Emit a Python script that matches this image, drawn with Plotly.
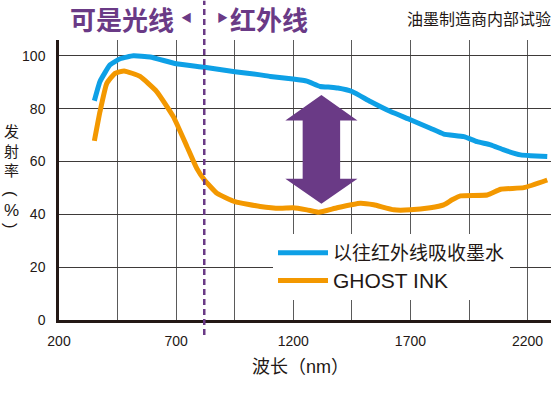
import plotly.graph_objects as go

# ---- data ----
wl_conventional = [351, 375, 418, 461, 517, 589, 700, 821, 951, 1059, 1102, 1199, 1258, 1315, 1360, 1390,
                   1451, 1529, 1615, 1700, 1785, 1842, 1928, 1985, 2042, 2099, 2170, 2212, 2284]
conventional = [83, 90.3, 96.6, 98.9, 100, 99.6, 97, 95.7, 94, 92.8, 92.2, 91.2, 90.4, 88.4, 88.1, 87.8,
                86.5, 82.7, 78.9, 75.8, 72.6, 70.4, 69.4, 67.5, 66.3, 64.4, 62.5, 62.2, 61.9]

wl_ghost = [351, 375, 404, 439, 478, 546, 617, 688, 746, 788, 821, 874, 951, 1059, 1144, 1199, 1258, 1308,
            1387, 1486, 1543, 1629, 1700, 1785, 1842, 1878, 1914, 2028, 2085, 2184, 2284]
ghost = [67.8, 78.9, 89.6, 93.4, 94.3, 92.2, 86.5, 77, 65.7, 57.4, 53, 48, 44.8, 43, 42.3, 42.5, 41.7, 40.8,
         42.5, 44.2, 43.6, 41.7, 41.7, 42.5, 43.6, 45.5, 47, 47.3, 49.5, 50.1, 53]

x_tick_vals = [200, 700, 1200, 1700, 2200]
x_tick_text = ["200", "700", "1200", "1700", "2200"]
y_tick_vals = [0, 20, 40, 60, 80, 100]
series_names = ["以往红外线吸收墨水", "GHOST INK"]
boundary_nm = 820

# arrow decoration parameters (data units)
arrow_cx, arrow_shaft_hw, arrow_head_hw = 1320, 80, 154
arrow_top, arrow_top_base, arrow_bot_base, arrow_bot = 85.2, 75.5, 53.5, 44.0

BLUE = "#0ea0e6"
ORANGE = "#f39800"
PURPLE = "#6a3a86"
DARK = "#231815"
CJK = "Noto Sans CJK SC"
LAT = "Liberation Sans, Noto Sans CJK SC, sans-serif"

fig = go.Figure()
fig.add_trace(go.Scatter(x=wl_conventional, y=conventional, mode="lines", name=series_names[0],
                         line=dict(color=BLUE, width=5, shape="spline", smoothing=0.4)))
fig.add_trace(go.Scatter(x=wl_ghost, y=ghost, mode="lines",
                         name=f"<span style='font-size:21px'>{series_names[1]}</span>",
                         line=dict(color=ORANGE, width=5, shape="spline", smoothing=0.4)))

arrow_path = (
    f"M {arrow_cx},{arrow_top} L {arrow_cx + arrow_head_hw},{arrow_top_base} "
    f"L {arrow_cx + arrow_shaft_hw},{arrow_top_base} L {arrow_cx + arrow_shaft_hw},{arrow_bot_base} "
    f"L {arrow_cx + arrow_head_hw},{arrow_bot_base} L {arrow_cx},{arrow_bot} "
    f"L {arrow_cx - arrow_head_hw},{arrow_bot_base} L {arrow_cx - arrow_shaft_hw},{arrow_bot_base} "
    f"L {arrow_cx - arrow_shaft_hw},{arrow_top_base} L {arrow_cx - arrow_head_hw},{arrow_top_base} Z"
)
fig.add_shape(type="path", path=arrow_path, xref="x", yref="y", fillcolor=PURPLE, line=dict(width=0),
              layer="above")

fig.add_shape(type="line", xref="x", yref="paper", x0=boundary_nm, x1=boundary_nm, y0=-0.054, y1=1.14,
              line=dict(color=PURPLE, width=2.5, dash="6px,4px"), layer="above")

annotations = [
    dict(text="<b>可是光线</b>", x=176, y=18, font=dict(size=26, color=PURPLE, family=CJK), xanchor="right"),
    dict(text="◀", x=194, y=17, font=dict(size=11, color=PURPLE, family=CJK), xanchor="right"),
    dict(text="▶", x=215, y=17, font=dict(size=11, color=PURPLE, family=CJK), xanchor="left"),
    dict(text="<b>红外线</b>", x=228, y=18, font=dict(size=26, color=PURPLE, family=CJK), xanchor="left"),
    dict(text="油墨制造商内部试验", x=553, y=18, font=dict(size=16, color=DARK, family=CJK), xanchor="right"),
    dict(text="波长（nm）", x=300, y=367, font=dict(size=18, color=DARK, family=LAT), xanchor="center"),
    dict(text="发<br>射<br>率", x=11, y=150, font=dict(size=15, color=DARK, family=CJK), xanchor="center"),
    dict(text="(", x=11, y=194, font=dict(size=17, color=DARK, family=LAT), xanchor="center", textangle=90),
    dict(text="%", x=11, y=210, font=dict(size=17, color=DARK, family=LAT), xanchor="center"),
    dict(text=")", x=11, y=226, font=dict(size=17, color=DARK, family=LAT), xanchor="center", textangle=90),
]
W, H = 553, 394
L, R, T, B = 59, 2, 40, 74
for a in annotations:
    px, py = a.pop("x"), a.pop("y")
    fig.add_annotation(xref="paper", yref="paper", x=(px - L) / (W - L - R), y=(H - B - py) / (H - T - B),
                       yanchor="middle", showarrow=False, **a)

fig.update_layout(
    width=W, height=H, margin=dict(l=L, r=R, t=T, b=B, autoexpand=False),
    paper_bgcolor="white", plot_bgcolor="white",
    font=dict(family=LAT, color=DARK, size=14),
    showlegend=True,
    legend=dict(x=(273 - L) / (W - L - R), y=(H - B - 234) / (H - T - B), xanchor="left", yanchor="top",
                bgcolor="white", font=dict(size=19, family=LAT, color=DARK), itemwidth=50,
                tracegroupgap=0),
    xaxis=dict(range=[200, 2300], tickvals=x_tick_vals, ticktext=x_tick_text, showgrid=True,
               gridcolor="#5a5a5a", gridwidth=1, zeroline=False, showline=True, linecolor=DARK,
               linewidth=2.5, ticks="outside", ticklen=6, tickcolor="white", automargin=False,
               tickfont=dict(size=14, family=LAT, color=DARK),
               minor=dict(dtick=250, tick0=200, showgrid=True, gridcolor="#5a5a5a", gridwidth=1)),
    yaxis=dict(range=[0, 106], tickvals=y_tick_vals, showgrid=True, gridcolor="#3e3a39", gridwidth=1,
               zeroline=False, showline=True, linecolor=DARK, linewidth=2.5, ticks="outside",
               ticklen=8, tickcolor="white", automargin=False,
               tickfont=dict(size=14, family=LAT, color=DARK)),
)

fig.write_html("out.html", config={"displayModeBar": False},
               post_script="document.body.style.margin='0';document.body.style.padding='0';")
